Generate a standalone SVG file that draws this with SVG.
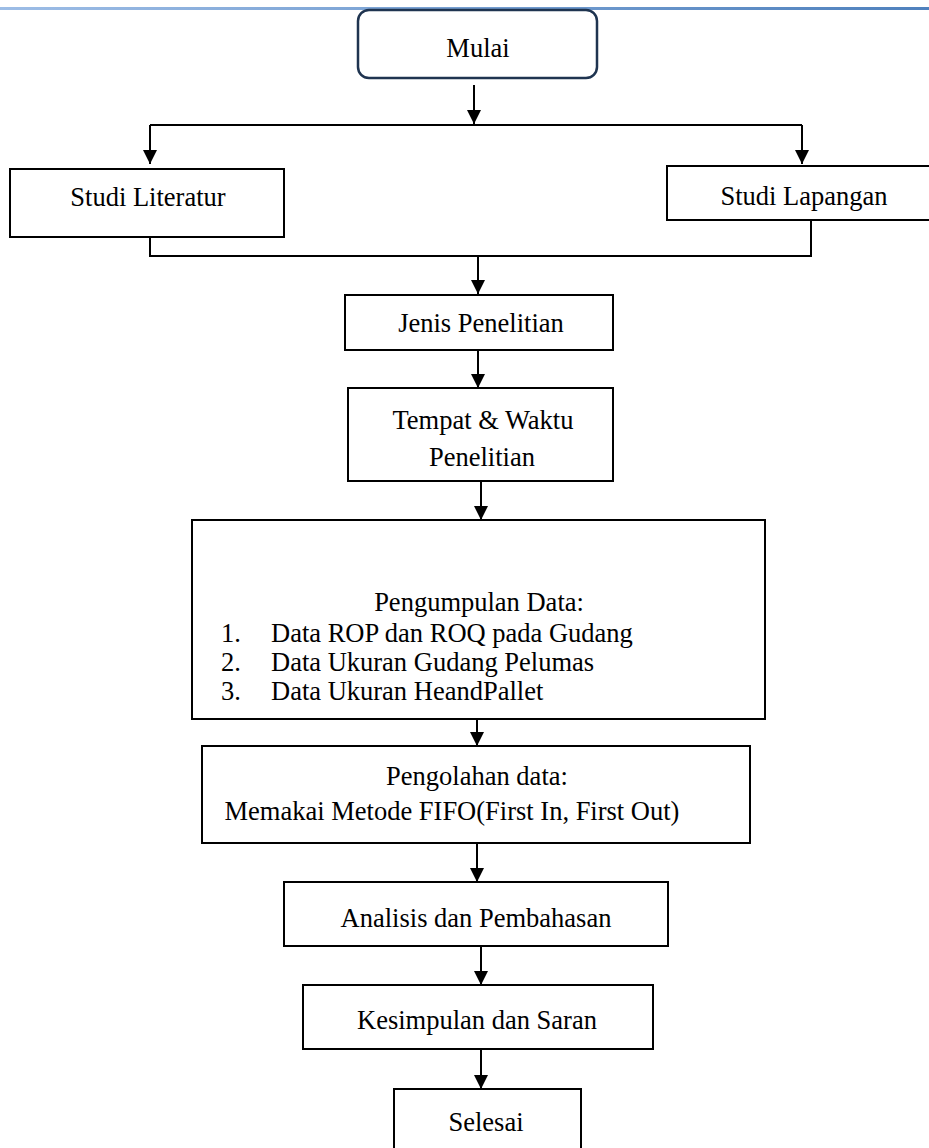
<svg xmlns="http://www.w3.org/2000/svg" width="929" height="1148" viewBox="0 0 929 1148">
<defs>
<linearGradient id="bl" x1="0" y1="0" x2="1" y2="0">
<stop offset="0" stop-color="#9dbde6"/>
<stop offset="1" stop-color="#4f81bd"/>
</linearGradient>
<marker id="ah" markerWidth="14" markerHeight="14" refX="14" refY="7" orient="auto" markerUnits="userSpaceOnUse" viewBox="0 0 14 14">
<path d="M0,0 L14,7 L0,14 Z" fill="#000"/>
</marker>
<style>
.box{fill:#fff;stroke:#000;stroke-width:2}
.t{font-family:"Liberation Serif","Times New Roman",serif;font-size:26.5px;fill:#000;text-anchor:middle}
.tl{font-family:"Liberation Serif","Times New Roman",serif;font-size:26.5px;fill:#000}
.c{fill:none;stroke:#000;stroke-width:2}
.ca{fill:none;stroke:#000;stroke-width:2;marker-end:url(#ah)}
</style>
</defs>
<rect x="0" y="0" width="929" height="1148" fill="#fff"/>
<rect x="0" y="7" width="929" height="3" fill="url(#bl)"/>
<g id="connectors">
<line class="ca" x1="474" y1="85" x2="474" y2="124"/>
<polyline class="c" points="150,125 802,125"/>
<line class="ca" x1="150" y1="125" x2="150" y2="164"/>
<line class="ca" x1="802" y1="125" x2="802" y2="164"/>
<polyline class="c" points="150,237 150,256 811,256 811,220"/>
<line class="ca" x1="478" y1="256" x2="478" y2="294"/>
<line class="ca" x1="478" y1="350" x2="478" y2="388"/>
<line class="ca" x1="481" y1="481" x2="481" y2="520"/>
<line class="ca" x1="477" y1="719" x2="477" y2="746"/>
<line class="ca" x1="477" y1="843" x2="477" y2="882"/>
<line class="ca" x1="481" y1="946" x2="481" y2="985"/>
<line class="ca" x1="481" y1="1049" x2="481" y2="1089"/>
</g>
<g id="mulai">
<rect x="358" y="10" width="239" height="68" rx="11" ry="11" fill="#fff" stroke="#1f3450" stroke-width="2.5"/>
<text class="t" x="478" y="57">Mulai</text>
</g>
<g id="studi-literatur">
<rect class="box" x="10" y="169" width="274" height="68"/>
<text class="t" x="148" y="206">Studi Literatur</text>
</g>
<g id="studi-lapangan">
<rect class="box" x="667" y="166" width="264" height="54"/>
<text class="t" x="804" y="205">Studi Lapangan</text>
</g>
<g id="jenis">
<rect class="box" x="345" y="295" width="268" height="55"/>
<text class="t" x="481" y="332">Jenis Penelitian</text>
</g>
<g id="tempat">
<rect class="box" x="348" y="388" width="265" height="93"/>
<text class="t" x="483" y="429">Tempat &amp; Waktu</text>
<text class="t" x="482" y="466">Penelitian</text>
</g>
<g id="pengumpulan">
<rect class="box" x="192" y="520" width="573" height="199"/>
<text class="t" x="479" y="611">Pengumpulan Data:</text>
<text class="tl" x="221" y="642">1.</text>
<text class="tl" x="271" y="642">Data ROP dan ROQ pada Gudang</text>
<text class="tl" x="221" y="671">2.</text>
<text class="tl" x="271" y="671">Data Ukuran Gudang Pelumas</text>
<text class="tl" x="221" y="700">3.</text>
<text class="tl" x="271" y="700">Data Ukuran HeandPallet</text>
</g>
<g id="pengolahan">
<rect class="box" x="202" y="746" width="548" height="97"/>
<text class="t" x="477" y="785">Pengolahan data:</text>
<text class="t" x="452" y="820">Memakai Metode FIFO(First In, First Out)</text>
</g>
<g id="analisis">
<rect class="box" x="284" y="882" width="384" height="64"/>
<text class="t" x="476" y="927">Analisis dan Pembahasan</text>
</g>
<g id="kesimpulan">
<rect class="box" x="303" y="985" width="350" height="64"/>
<text class="t" x="477" y="1029">Kesimpulan dan Saran</text>
</g>
<g id="selesai">
<rect class="box" x="394" y="1089" width="187" height="70"/>
<text class="t" x="486" y="1131">Selesai</text>
</g>
</svg>
